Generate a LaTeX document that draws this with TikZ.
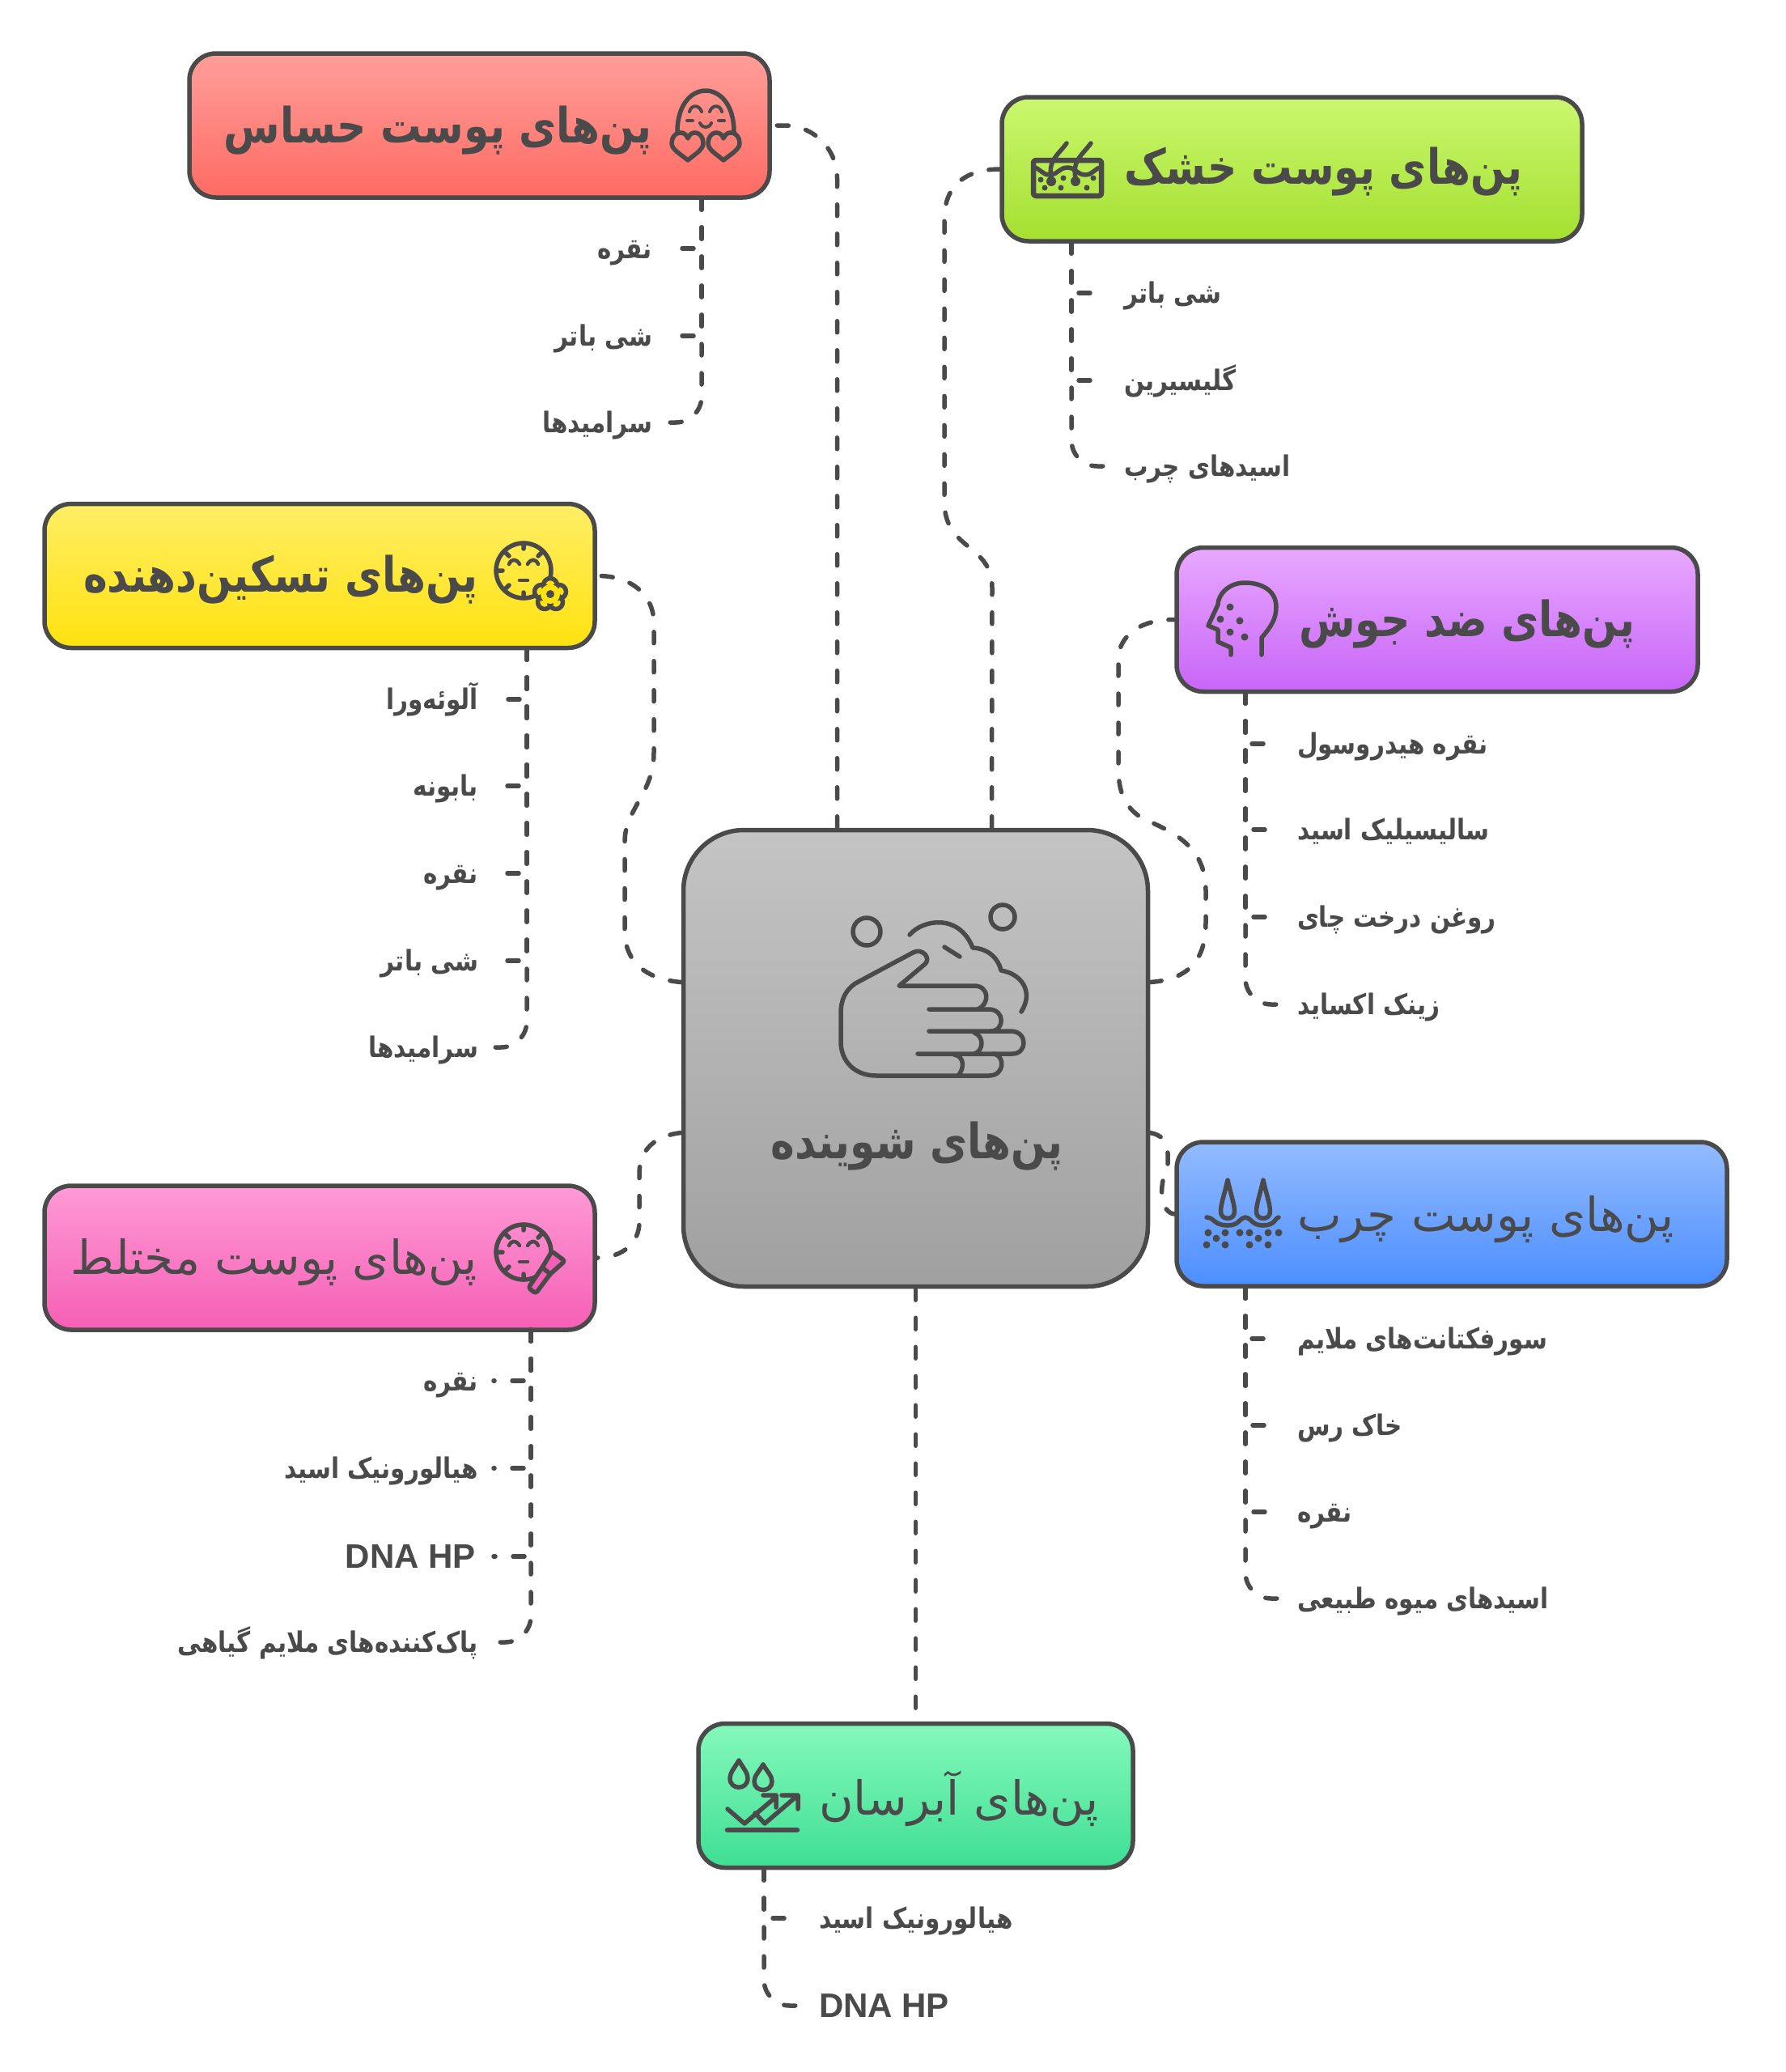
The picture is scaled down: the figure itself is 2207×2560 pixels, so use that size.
\documentclass[tikz,border=0pt]{standalone}
\usepackage{fontspec}
\newfontfamily\fafont[Script=Arabic, BoldFeatures={FakeStretch=0.84}]{DejaVu Sans}
\newfontfamily\latinfont{Liberation Sans}
\TeXXeTstate=1
\newcommand{\fa}[1]{\beginR #1\endR}
\definecolor{ink}{HTML}{4A4A4A}
\definecolor{senstop}{HTML}{FF9E9A}
\definecolor{sensbot}{HTML}{FF6B63}
\definecolor{drytop}{HTML}{CBF76F}
\definecolor{drybot}{HTML}{A4E030}
\definecolor{soothtop}{HTML}{FFEE66}
\definecolor{soothbot}{HTML}{FFE20F}
\definecolor{acnetop}{HTML}{E8A8FF}
\definecolor{acnebot}{HTML}{C865F8}
\definecolor{combotop}{HTML}{FF9AD5}
\definecolor{combobot}{HTML}{F55FB5}
\definecolor{oilytop}{HTML}{93BBFF}
\definecolor{oilybot}{HTML}{4C8EFF}
\definecolor{hydrtop}{HTML}{85F9BB}
\definecolor{hydrbot}{HTML}{3FDE94}
\definecolor{hubtop}{HTML}{C4C4C4}
\definecolor{hubbot}{HTML}{A0A0A0}
\tikzset{
    card/.style={draw=ink, line width=5.5pt, rounded corners=33pt, minimum height=178pt, inner sep=0pt},
    headbold/.style={text=ink, inner sep=0pt, font=\fafont\bfseries\fontsize{60}{72}\selectfont},
    headplain/.style={text=ink, inner sep=0pt, font=\fafont\fontsize{58}{70}\selectfont},
    itemtext/.style={text=ink, inner sep=0pt, outer xsep=22pt, text height=26pt, text depth=2pt, font=\fafont\bfseries\fontsize{35}{42}\selectfont},
    itemleft/.style={itemtext, outer xsep=19pt},
    itemlatin/.style={text=ink, inner sep=0pt, outer xsep=22pt, font=\latinfont\bfseries\fontsize{42}{50}\selectfont},
    link/.style={draw=ink, line width=5.5pt, line cap=round, dash pattern=on 14pt off 22pt},
    lastlink/.style={link, rounded corners=32pt},
    iconline/.style={draw=ink, line width=5.5pt, line cap=round, line join=round},
    icondot/.style={fill=ink}
}
\begin{document}
\begin{tikzpicture}[x=1pt, y=-1pt]
    \useasboundingbox (0,0) rectangle (2207,2560);

    \node[card, rounded corners=75pt, minimum width=574pt, minimum height=564pt, top color=hubtop, bottom color=hubbot] (hub) at (1131.5,1307.5) {};
    \node[card, minimum width=717pt, top color=senstop, bottom color=sensbot] (sens) at (592.5,155) {};
    \node[card, minimum width=717pt, top color=drytop, bottom color=drybot] (dry) at (1596.5,209) {};
    \node[card, minimum width=680pt, top color=soothtop, bottom color=soothbot] (sooth) at (395,711.5) {};
    \node[card, minimum width=644pt, top color=acnetop, bottom color=acnebot] (acne) at (1776,765.5) {};
    \node[card, minimum width=680pt, top color=combotop, bottom color=combobot] (combo) at (395,1554) {};
    \node[card, minimum width=680pt, top color=oilytop, bottom color=oilybot] (oily) at (1794,1500) {};
    \node[card, minimum width=537pt, top color=hydrtop, bottom color=hydrbot] (hydr) at (1131.5,2218.5) {};

    \node[headbold] (hubT) at (1133,1416) {\fa{پن‌های شوینده}};
    \node[headbold, anchor=east] (sensT) at (806,161) {\fa{پن‌های پوست حساس}};
    \node[headbold, anchor=west] (dryT) at (1389,212) {\fa{پن‌های پوست خشک}};
    \node[headbold, anchor=east] (soothT) at (591,716) {\fa{پن‌های تسکین‌دهنده}};
    \node[headbold, anchor=west] (acneT) at (1605,771) {\fa{پن‌های ضد جوش}};
    \node[headplain, anchor=east] (comboT) at (590,1560) {\fa{پن‌های پوست مختلط}};
    \node[headplain, anchor=west] (oilyT) at (1603,1507) {\fa{پن‌های پوست چرب}};
    \node[headplain, anchor=west] (hydrT) at (1012,2222) {\fa{پن‌های آبرسان}};

    \node[itemleft, anchor=east] (sensA) at (825,307) {\fa{نقره}};
    \node[itemleft, anchor=east] (sensB) at (825,415) {\fa{شی باتر}};
    \node[itemleft, anchor=east] (sensC) at (825,522) {\fa{سرامیدها}};
    \node[itemtext, anchor=west] (dryA) at (1367,362) {\fa{شی باتر}};
    \node[itemtext, anchor=west] (dryB) at (1367,470) {\fa{گلیسیرین}};
    \node[itemtext, anchor=west] (dryC) at (1367,576) {\fa{اسیدهای چرب}};
    \node[itemleft, anchor=east] (soothA) at (610,864) {\fa{آلوئه‌ورا}};
    \node[itemleft, anchor=east] (soothB) at (610,971) {\fa{بابونه}};
    \node[itemleft, anchor=east] (soothC) at (610,1079) {\fa{نقره}};
    \node[itemleft, anchor=east] (soothD) at (610,1187) {\fa{شی باتر}};
    \node[itemleft, anchor=east] (soothE) at (610,1294) {\fa{سرامیدها}};
    \node[itemtext, anchor=west] (acneA) at (1581,919) {\fa{نقره هیدروسول}};
    \node[itemtext, anchor=west] (acneB) at (1581,1025) {\fa{سالیسیلیک اسید}};
    \node[itemtext, anchor=west] (acneC) at (1581,1133) {\fa{روغن درخت چای}};
    \node[itemtext, anchor=west] (acneD) at (1581,1241) {\fa{زینک اکساید}};
    \node[itemleft, anchor=east] (comboA) at (610,1706) {\fa{نقره}};
    \node[itemleft, anchor=east] (comboB) at (610,1814) {\fa{هیالورونیک اسید}};
    \node[itemlatin, anchor=east] (comboC) at (610,1923) {DNA HP};
    \node[itemleft, anchor=east] (comboD) at (610,2029) {\fa{پاک‌کننده‌های ملایم گیاهی}};
    \node[itemtext, anchor=west] (oilyA) at (1581,1654) {\fa{سورفکتانت‌های ملایم}};
    \node[itemtext, anchor=west] (oilyB) at (1581,1761) {\fa{خاک رس}};
    \node[itemtext, anchor=west] (oilyC) at (1581,1868) {\fa{نقره}};
    \node[itemtext, anchor=west] (oilyD) at (1581,1975) {\fa{اسیدهای میوه طبیعی}};
    \node[itemtext, anchor=west] (hydrA) at (990,2370) {\fa{هیالورونیک اسید}};
    \node[itemlatin, anchor=west] (hydrB) at (990,2478) {DNA HP};

    \coordinate (sensF) at (867,245);
    \coordinate (dryF) at (1324,299);
    \coordinate (soothF) at (651,801);
    \coordinate (acneF) at (1539,855);
    \coordinate (comboF) at (656,1643);
    \coordinate (oilyF) at (1539,1590);
    \coordinate (hydrF) at (944,2309);

    \draw[link, rounded corners=65pt] (hub.north) ++(-97,0) |- (sens.east);
    \draw[link] (hub.north) ++(94,0) -- (1226,726) .. controls (1226,672) and (1167,680) .. (1167,620) -- (1167,270) .. controls (1167,228) and (1195,209) .. (dry.west);
    \draw[link] (hub.west) ++(0,-94) .. controls (800,1210) and (772,1190) .. (772,1150) -- (772,1040) .. controls (772,1000) and (808,980) .. (808,930) -- (808,770) .. controls (808,735) and (780,711) .. (sooth.east);
    \draw[link] (hub.east) ++(0,-94) .. controls (1470,1210) and (1490,1185) .. (1490,1140) -- (1490,1100) .. controls (1490,1040) and (1440,1025) .. (1410,1010) .. controls (1395,1000) and (1382,985) .. (1382,950) -- (1382,815) .. controls (1382,785) and (1410,765) .. (acne.west);
    \draw[link] (hub.west) ++(0,92) .. controls (810,1403) and (790,1420) .. (790,1450) -- (790,1510) .. controls (790,1535) and (770,1554) .. (combo.east);
    \draw[link] (hub.east) ++(0,92) .. controls (1435,1402) and (1443,1410) .. (1443,1425) -- (1443,1440) .. controls (1430,1470) and (1435,1498) .. (oily.west);
    \draw[link] (hub.south) -- (hydr.north);

    \draw[link] (sensF) |- (sensA.east);
    \draw[link] (sensF) |- (sensB.east);
    \draw[lastlink] (sensF) |- (sensC.east);
    \draw[link] (dryF) |- (dryA.west);
    \draw[link] (dryF) |- (dryB.west);
    \draw[lastlink] (dryF) |- (dryC.west);
    \draw[link] (soothF) |- (soothA.east);
    \draw[link] (soothF) |- (soothB.east);
    \draw[link] (soothF) |- (soothC.east);
    \draw[link] (soothF) |- (soothD.east);
    \draw[lastlink] (soothF) |- (soothE.east);
    \draw[link] (acneF) |- (acneA.west);
    \draw[link] (acneF) |- (acneB.west);
    \draw[link] (acneF) |- (acneC.west);
    \draw[lastlink] (acneF) |- (acneD.west);
    \draw[link] (comboF) |- (comboA.east);
    \draw[link] (comboF) |- (comboB.east);
    \draw[link] (comboF) |- (comboC.east);
    \draw[lastlink] (comboF) |- (comboD.east);
    \draw[link] (oilyF) |- (oilyA.west);
    \draw[link] (oilyF) |- (oilyB.west);
    \draw[link] (oilyF) |- (oilyC.west);
    \draw[lastlink] (oilyF) |- (oilyD.west);
    \draw[link] (hydrF) |- (hydrA.west);
    \draw[lastlink] (hydrF) |- (hydrB.west);

    \draw[iconline] (1071,1151) circle[radius=17] (1239,1133) circle[radius=15];
    \draw[iconline] (1124,1155) .. controls (1140,1136) and (1185,1128) .. (1202,1171) .. controls (1222,1172) and (1234,1185) .. (1237,1199) .. controls (1262,1203) and (1278,1225) .. (1262,1250);
    \draw[iconline] (1167,1170) -- (1186,1182);
    \draw[iconline] (1128,1177) .. controls (1140,1170) and (1152,1185) .. (1142,1192) -- (1111,1218) -- (1204,1218) .. controls (1222,1218) and (1224,1240) .. (1208,1247);
    \draw[iconline] (1148,1247) -- (1222,1247) .. controls (1242,1247) and (1242,1274) .. (1224,1274);
    \draw[iconline] (1148,1274) -- (1249,1274) .. controls (1270,1274) and (1270,1302) .. (1251,1302) -- (1134,1302);
    \draw[iconline] (1204,1276) .. controls (1216,1280) and (1216,1298) .. (1204,1302);
    \draw[iconline] (1228,1302) .. controls (1242,1304) and (1242,1329) .. (1222,1329) -- (1083,1329) .. controls (1055,1329) and (1039,1310) .. (1039,1287) -- (1039,1252) .. controls (1039,1235) and (1045,1223) .. (1057,1215) -- (1128,1177);
    \draw[iconline] (1179,1303) .. controls (1192,1305) and (1192,1320) .. (1184,1329);

    \begin{scope}[shift={(872,155)}]
        \draw[iconline] (-35,8) .. controls (-35,-60) and (35,-60) .. (35,8);
        \draw[iconline, line width=4pt] (-20,-17) .. controls (-18,-26) and (-8,-26) .. (-5,-17) (5,-17) .. controls (8,-26) and (18,-26) .. (20,-17);
        \draw[iconline, line width=4pt] (-23,-6) -- (-16,-6) (16,-6) -- (23,-6);
        \draw[iconline, line width=4pt] (-7,-3) .. controls (-4,4) and (4,4) .. (7,-3);
        \draw[iconline] (-22,43) .. controls (-30,36) and (-42,30) .. (-42,22) .. controls (-42,8) and (-26,4) .. (-22,16) .. controls (-18,4) and (-3,8) .. (-3,22) .. controls (-3,30) and (-14,36) .. (-22,43);
        \draw[iconline] (22,43) .. controls (30,36) and (42,30) .. (42,22) .. controls (42,8) and (26,4) .. (22,16) .. controls (18,4) and (3,8) .. (3,22) .. controls (3,30) and (14,36) .. (22,43);
    \end{scope}

    \begin{scope}[shift={(1319,210)}]
        \draw[iconline, line width=6.5pt, rounded corners=3pt] (-42,-12) rectangle (42,32);
        \draw[iconline] (-42,-3) .. controls (-34,-3) and (-32,6) .. (-22,6) .. controls (-12,6) and (-10,-3) .. (0,-3) .. controls (10,-3) and (12,6) .. (22,6) .. controls (32,6) and (34,-3) .. (42,-3);
        \draw[iconline] (-20,10) .. controls (-24,-12) and (-12,-18) .. (-1,-33);
        \draw[iconline] (10,10) .. controls (6,-12) and (18,-18) .. (29,-33);
        \fill[icondot] (-20,14) circle[radius=6] (10,14) circle[radius=6] (-33,12) circle[radius=3.5] (-28,22) circle[radius=3.5] (-8,22) circle[radius=3.5] (-5,10) circle[radius=3.5] (24,22) circle[radius=3.5] (32,10) circle[radius=3.5];
    \end{scope}

    \begin{scope}[shift={(647,705)}]
        \draw[iconline] (0,0) circle[radius=34];
        \draw[iconline] (-34,0) -- (-26,0) (-24,-24) -- (-18,-18) (0,-34) -- (0,-27) (24,-24) -- (18,-18) (-24,24) -- (-18,18) (0,34) -- (0,27);
        \draw[iconline, line width=4.5pt] (-18,-8) .. controls (-15,-15) and (-9,-15) .. (-5,-8) (5,-8) .. controls (9,-15) and (15,-15) .. (18,-8);
        \draw[iconline, line width=4.5pt] (-5,12) -- (5,12);
        \draw[iconline, fill=soothbot] (33,18) circle[radius=8.5] (44,26) circle[radius=8.5] (40,39) circle[radius=8.5] (26,39) circle[radius=8.5] (22,26) circle[radius=8.5];
        \fill[soothbot] (33,29) circle[radius=12];
        \fill[icondot] (33,29) circle[radius=5];
    \end{scope}

    \draw[iconline] (1559,809) -- (1559,788) .. controls (1570,775) and (1577,765) .. (1577,750) .. controls (1577,730) and (1560,720) .. (1538,720) .. controls (1518,720) and (1505,735) .. (1505,747) -- (1493,773) -- (1505,778) -- (1505,793) -- (1521,800) -- (1521,809);
    \fill[icondot] (1520,750) circle[radius=4.5] (1508,765) circle[radius=4.5] (1532,767) circle[radius=4.5] (1520,781) circle[radius=4.5] (1538,787) circle[radius=4.5];

    \begin{scope}[shift={(647,1547)}]
        \draw[iconline] (0,0) circle[radius=34];
        \draw[iconline] (-34,0) -- (-26,0) (-24,-24) -- (-18,-18) (0,-34) -- (0,-27) (24,-24) -- (18,-18) (-24,24) -- (-18,18) (0,34) -- (0,27);
        \draw[iconline, line width=4.5pt] (-18,-8) .. controls (-15,-15) and (-9,-15) .. (-5,-8) (5,-8) .. controls (9,-15) and (15,-15) .. (18,-8);
        \draw[iconline, line width=4.5pt] (-5,12) -- (5,12);
    \end{scope}
    \draw[iconline, fill=combobot, rounded corners=3pt] (662,1598) -- (653,1591) -- (670,1566) -- (682,1546) -- (698,1558) -- (680,1574) -- cycle;
    \draw[iconline] (670,1566) -- (680,1574);

    \draw[iconline] (1517,1458) .. controls (1512,1480) and (1507,1492) .. (1509,1500) .. controls (1511,1507) and (1523,1507) .. (1525,1500) .. controls (1527,1492) and (1522,1480) .. (1517,1458);
    \draw[iconline] (1561,1458) .. controls (1556,1480) and (1551,1492) .. (1553,1500) .. controls (1555,1507) and (1567,1507) .. (1569,1500) .. controls (1571,1492) and (1566,1480) .. (1561,1458);
    \draw[iconline] (1491,1504) .. controls (1500,1504) and (1500,1514) .. (1517,1514) .. controls (1532,1514) and (1532,1504) .. (1539,1504) .. controls (1546,1504) and (1546,1514) .. (1561,1514) .. controls (1576,1514) and (1576,1504) .. (1580,1504);
    \fill[icondot] (1493,1523) circle[radius=4.5] (1514,1523) circle[radius=4.5] (1544,1523) circle[radius=4.5] (1567,1523) circle[radius=4.5] (1532,1523) circle[radius=4.5] (1580,1523) circle[radius=4.5] (1491,1538) circle[radius=4.5] (1514,1538) circle[radius=4.5] (1544,1538) circle[radius=4.5] (1567,1538) circle[radius=4.5] (1503,1530) circle[radius=4.5] (1555,1530) circle[radius=4.5];

    \draw[iconline] (913,2175) .. controls (908,2184) and (902,2190) .. (902,2197) .. controls (902,2212) and (924,2212) .. (924,2197) .. controls (924,2190) and (918,2184) .. (913,2175);
    \draw[iconline] (943,2180) .. controls (938,2189) and (932,2194) .. (932,2201) .. controls (932,2215) and (954,2215) .. (954,2201) .. controls (954,2194) and (948,2189) .. (943,2180);
    \draw[iconline] (899,2235) -- (920,2253) -- (959,2220) (943,2218) -- (959,2218) -- (959,2233);
    \draw[iconline] (945,2253) -- (986,2218) (966,2218) -- (986,2218) -- (986,2235) (933,2240) -- (945,2253);
    \draw[iconline, line width=6.5pt] (899,2261) -- (985,2261);
\end{tikzpicture}
\end{document}
